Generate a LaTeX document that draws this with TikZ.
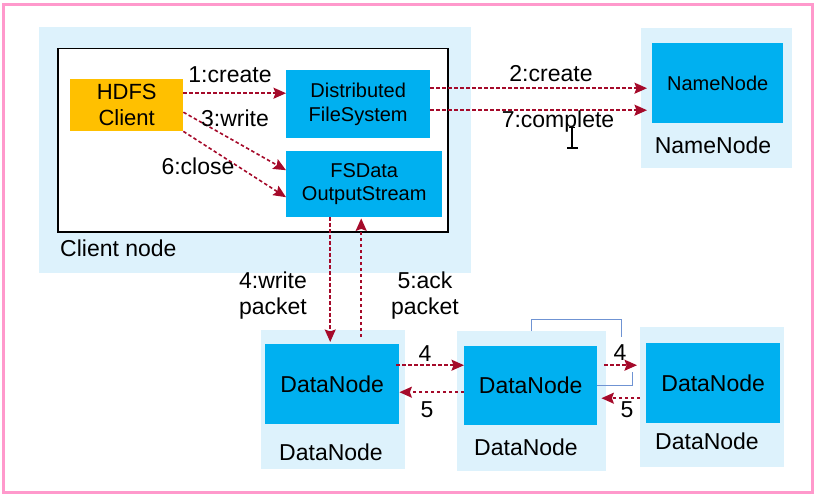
\documentclass[tikz,border=0pt]{standalone}
\usepackage{fontspec}
\setmainfont{Liberation Sans}
\usetikzlibrary{arrows.meta}
\definecolor{bgblue}{HTML}{DDF2FC}
\definecolor{boxblue}{HTML}{00B0F0}
\definecolor{orangebox}{HTML}{FFC000}
\definecolor{arrowred}{HTML}{A50A2A}
\definecolor{pinkframe}{HTML}{FF99CC}
\definecolor{bracketblue}{HTML}{6F93D3}
\begin{document}
\begin{tikzpicture}[x=1pt,y=-1pt,
 bg/.style={fill=bgblue, draw=none, anchor=north west, inner sep=0},
 inbox/.style={fill=boxblue, draw=none, anchor=north west, inner sep=0, align=center, font=\fontsize{20}{23.5}\selectfont},
 lbl/.style={font=\fontsize{23}{26}\selectfont, inner sep=0, align=center},
 flow/.style={arrowred, line width=1.6pt, dash pattern=on 3.5pt off 2.5pt, -{Stealth[length=12.5pt,width=11pt,inset=2pt]}},
 bracket/.style={bracketblue, line width=0.8pt}]
\useasboundingbox (0,0) rectangle (817,495);
\draw[pinkframe, line width=3pt] (3,5) rectangle (812,492);

% client node
\node[bg, minimum width=432, minimum height=246] (clientbg) at (39,27) {};
\node[draw=black, line width=1.5pt, fill=white, anchor=north west, inner sep=0, minimum width=390, minimum height=183] (clientframe) at (57,48) {};
\node[lbl, anchor=west] (clientlbl) at (60,248) {Client node};
\node[inbox, fill=orangebox, minimum width=113, minimum height=52, font=\fontsize{22}{26}\selectfont] (hdfs) at (70,79) {HDFS\\Client};
\node[inbox, minimum width=144, minimum height=68] (dfs) at (286,70) {Distributed\\FileSystem};
\node[inbox, minimum width=156, minimum height=66, font=\fontsize{20}{23}\selectfont] (fsdos) at (286,151) {FSData\\OutputStream};

% name node
\node[bg, minimum width=151, minimum height=140] (nnbg) at (641,28) {};
\node[inbox, minimum width=131, minimum height=80] (nn) at (652,43) {NameNode};
\node[lbl] (nnlbl) at (713,145) {NameNode};

% data nodes
\node[bg, minimum width=144, minimum height=139] (dn1bg) at (261,330) {};
\node[inbox, minimum width=134, minimum height=80, font=\fontsize{23}{26}\selectfont] (dn1) at (265,344) {DataNode};
\node[lbl] (dn1lbl) at (331,452) {DataNode};
\node[bg, minimum width=149, minimum height=140] (dn2bg) at (457,331) {};
\node[inbox, minimum width=133, minimum height=79, font=\fontsize{23}{26}\selectfont] (dn2) at (464,346) {DataNode};
\node[lbl] (dn2lbl) at (526,447) {DataNode};
\node[bg, minimum width=144, minimum height=140] (dn3bg) at (640,327) {};
\node[inbox, minimum width=134, minimum height=80, font=\fontsize{23}{26}\selectfont] (dn3) at (646,343) {DataNode};
\node[lbl] (dn3lbl) at (707,441) {DataNode};

% client-side arrows
\draw[flow] ([yshift=12pt]hdfs.east) -- ([yshift=12pt]hdfs.east -| dfs.west);
\node[lbl] (l1) at (230,75) {1:create};
\draw[flow] ([yshift=-7pt]hdfs.east) -- ([yshift=14pt]fsdos.west);
\node[lbl] (l3) at (235,118) {3:write};
\draw[flow] (hdfs.south east) -- ([yshift=-13pt]fsdos.west);
\node[lbl] (l6) at (198,166) {6:close};

% to name node
\draw[flow] ([yshift=16pt]dfs.east) -- ([xshift=-5pt,yshift=16pt]dfs.east -| nn.west);
\node[lbl] (l2) at (551,74) {2:create};
\draw[flow] ([yshift=-6pt]dfs.east) -- ([xshift=-5pt,yshift=-6pt]dfs.east -| nn.west);
\node[lbl] (l7) at (558,122) {7:complete};

% cursor mark
\draw[line width=1.2pt] (572,128) -- (572,148);
\draw[line width=1.2pt] (567,148) -- (578,148);
\draw[line width=1pt] (569,127) -- (575,127);

% packets
\draw[flow] ([xshift=-34pt]fsdos.south) -- ([xshift=-34pt,yshift=2pt]fsdos.south |- dn1.north);
\draw[flow] ([xshift=-3pt,yshift=7pt]fsdos.south |- dn1.north) -- ([xshift=-3pt,yshift=-1pt]fsdos.south);
\node[lbl] (l4) at (273,296) {4:write\\packet};
\node[lbl] (l5) at (425,296) {5:ack\\packet};

% pipeline
\draw[flow] ([xshift=-3pt,yshift=19pt]dn1.east) -- ([yshift=19pt]dn1.east -| dn2.west);
\node[lbl] (p4a) at (425,354) {4};
\draw[flow] ([yshift=-6.5pt]dn2.west) -- ([yshift=-6.5pt]dn2.west -| dn1.east);
\node[lbl] (p5a) at (427,410) {5};
\draw[flow] ([xshift=7pt,yshift=20.5pt]dn2.east) -- ([xshift=-9pt,yshift=20.5pt]dn2.east -| dn3.west);
\node[lbl] (p4b) at (620,353) {4};
\draw[flow] ([xshift=-6pt,yshift=-15pt]dn3.west) -- ([xshift=4pt,yshift=-15pt]dn3.west -| dn2.east);
\node[lbl] (p5b) at (627,410) {5};

% thin blue brackets
\draw[bracket] (531,331) -- (531,319) -- (621,319) -- (621,337);
\draw[bracket] (dn2.east |- 0,385) -- (632,385) -- (632,372);
\end{tikzpicture}
\end{document}
